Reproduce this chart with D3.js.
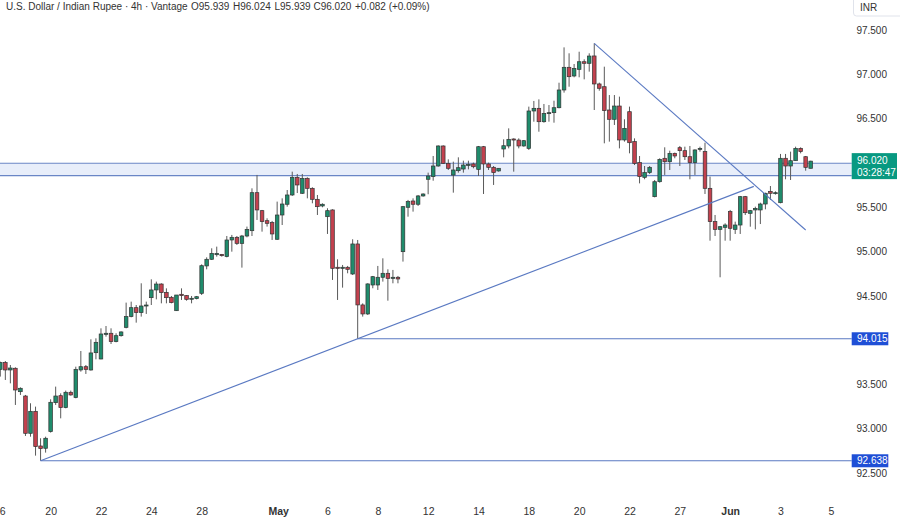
<!DOCTYPE html>
<html>
<head>
<meta charset="utf-8">
<script src="https://cdn.jsdelivr.net/npm/d3@7"></script>
<style>
  body { margin: 0; background: #fff; }
  svg { display: block; font-family: "Liberation Sans", Arial, sans-serif; }
</style>
</head>
<body>
<script>
// 4h candles, oldest first
var opens = [93.670,93.746,93.663,93.682,93.418,93.369,92.948,93.196,92.805,92.779,
  92.967,93.294,93.373,93.238,93.411,93.351,93.663,93.700,93.663,93.858,
  93.787,94.065,94.077,93.983,94.050,94.144,94.265,94.366,94.310,94.385,
  94.479,94.566,94.633,94.539,94.483,94.332,94.517,94.502,94.464,94.468,
  94.528,94.837,94.912,94.964,94.968,94.942,95.130,95.160,95.092,95.175,
  95.235,95.664,95.461,95.348,95.326,95.138,95.412,95.533,95.638,95.837,
  95.657,95.826,95.713,95.589,95.514,95.393,95.469,94.822,94.810,94.822,
  94.746,95.085,94.397,94.295,94.622,94.622,94.709,94.754,94.697,94.709,
  94.998,95.499,95.570,95.533,95.627,95.815,95.845,95.965,96.191,95.995,
  95.863,95.912,95.931,95.972,95.988,95.927,96.183,95.988,95.950,95.909,
  96.157,96.191,96.270,96.258,96.191,96.164,96.586,96.616,96.465,96.559,
  96.567,96.623,96.823,97.079,96.981,97.056,97.142,97.124,97.207,96.891,
  96.860,96.597,96.492,96.642,96.259,96.578,96.240,96.003,95.837,95.890,
  95.619,95.788,96.052,96.014,96.108,96.172,96.138,96.070,96.003,96.153,
  96.127,95.713,95.337,95.250,95.273,95.450,95.250,95.299,95.619,95.431,
  95.469,95.469,95.536,95.679,95.657,95.551,96.052,95.965,96.025,96.164,
  96.070,95.939];
var highs = [93.757,93.764,93.719,93.693,93.467,93.381,93.287,93.249,92.892,92.910,
  93.332,93.475,93.399,93.430,93.430,93.700,93.877,93.719,94.009,94.020,
  94.133,94.159,94.133,94.077,94.099,94.423,94.434,94.396,94.641,94.434,
  94.686,94.660,94.641,94.584,94.498,94.509,94.584,94.509,94.498,94.498,
  94.855,94.934,95.036,95.055,94.972,95.175,95.187,95.175,95.187,95.281,
  95.713,95.864,95.469,95.375,95.345,95.563,95.600,95.694,95.901,95.875,
  95.875,95.837,95.725,95.638,95.544,95.488,95.476,94.912,94.848,94.837,
  95.138,95.130,94.415,94.641,94.724,94.837,94.923,94.799,94.792,94.724,
  95.514,95.582,95.600,95.638,95.657,95.890,96.078,96.198,96.198,96.040,
  96.014,96.063,96.025,96.025,96.003,96.191,96.191,96.003,95.965,95.939,
  96.266,96.390,96.277,96.277,96.258,96.635,96.699,96.717,96.665,96.653,
  96.702,96.905,97.304,97.237,97.116,97.255,97.169,97.237,97.350,96.906,
  97.086,96.766,96.766,96.748,96.492,96.635,96.277,96.078,95.965,95.965,
  95.807,96.052,96.176,96.138,96.116,96.191,96.183,96.191,96.153,96.183,
  96.228,95.845,95.412,95.288,95.318,95.469,95.337,95.627,95.627,95.469,
  95.506,95.551,95.664,95.739,95.679,96.101,96.101,96.127,96.183,96.176,
  96.078,96.024];
var lows = [93.588,93.550,93.512,93.268,93.381,92.918,92.910,92.696,92.638,92.730,
  92.956,93.268,93.117,93.230,93.373,93.343,93.644,93.618,93.655,93.783,
  93.783,94.039,93.956,93.975,94.039,94.133,94.257,94.197,94.265,94.295,
  94.396,94.460,94.415,94.415,94.415,94.329,94.453,94.445,94.415,94.460,
  94.509,94.799,94.904,94.942,94.942,94.934,94.998,95.074,94.818,95.160,
  95.175,95.356,95.224,95.281,95.130,95.130,95.299,95.506,95.627,95.660,
  95.649,95.600,95.544,95.412,95.499,95.198,94.679,94.453,94.592,94.754,
  94.735,94.015,94.265,94.284,94.585,94.566,94.660,94.445,94.641,94.641,
  94.886,95.393,95.450,95.514,95.619,95.646,95.799,95.957,95.988,95.920,
  95.664,95.890,95.890,95.927,95.939,95.852,95.649,95.920,95.751,95.901,
  96.063,96.164,95.901,96.164,96.183,96.146,96.465,96.352,96.454,96.465,
  96.454,96.616,96.793,96.860,96.966,96.966,96.943,97.030,96.597,96.815,
  96.221,96.240,96.428,96.164,96.240,96.108,95.976,95.769,95.815,95.875,
  95.611,95.777,95.864,95.920,96.052,95.965,96.033,95.815,95.864,96.127,
  95.649,95.122,95.175,94.709,95.122,95.122,95.198,95.198,95.412,95.280,
  95.250,95.310,95.476,95.581,95.642,95.544,95.815,95.807,96.022,96.108,
  95.912,95.939];
var closes = [93.746,93.663,93.685,93.437,93.456,92.948,93.196,92.798,92.775,92.892,
  93.298,93.369,93.238,93.411,93.381,93.670,93.700,93.670,93.855,93.975,
  94.069,94.077,93.983,94.050,94.092,94.265,94.366,94.310,94.385,94.396,
  94.566,94.633,94.536,94.479,94.423,94.509,94.502,94.460,94.472,94.490,
  94.840,94.912,94.979,94.979,94.953,95.130,95.160,95.092,95.175,95.250,
  95.664,95.469,95.337,95.318,95.198,95.412,95.536,95.638,95.837,95.751,
  95.826,95.713,95.589,95.506,95.533,95.461,94.810,94.810,94.822,94.799,
  95.085,94.397,94.295,94.634,94.716,94.709,94.754,94.697,94.709,94.690,
  95.506,95.563,95.533,95.627,95.649,95.852,95.965,96.191,95.995,95.939,
  95.920,95.946,95.976,95.984,95.957,96.183,95.988,95.950,95.890,95.939,
  96.194,96.266,96.258,96.191,96.251,96.586,96.616,96.465,96.559,96.567,
  96.623,96.823,97.079,96.973,97.067,97.142,97.124,97.206,96.891,96.842,
  96.590,96.492,96.642,96.259,96.390,96.228,95.995,95.845,95.890,95.950,
  95.788,96.040,96.014,96.108,96.078,96.138,96.070,96.003,96.146,96.164,
  95.713,95.337,95.250,95.280,95.299,95.262,95.299,95.619,95.438,95.461,
  95.487,95.536,95.657,95.657,95.664,96.052,95.965,96.025,96.164,96.127,
  95.950,96.020];

// x axis labels, positioned by candle index
var dateLabels = ["16","20","22","24","28","May","6","8","12","14","18","20","22","27","Jun","3","5"];
var dateIdx = [-0.2,10,20,30,40,55.2,65,75,85,95,105,115,125,135,145,155,165];

// 96.000 and 94.000 sit under the price tags, so they are not shown
var priceTicks = [92.5,93,93.5,94.5,95,95.5,96.5,97,97.5];

// drawings: [idx1, price1, idx2, price2]
var trendLines = [[8, 92.638, 149.7, 95.735], [118, 97.35, 160, 95.243]];
var levelLines = [[71, 94.015], [8, 92.638]];
var zone = [95.856, 95.996];
var lastPrice = 96.020;

var width = 900, height = 523, plotRight = 851.7;

var svg = d3.select("body").append("svg")
  .attr("width", width)
  .attr("height", height);

var x = d3.scaleLinear().domain([0, 161]).range([0.3, 810.7]);
var y = d3.scaleLinear().domain([92.5, 97.5]).range([473, 30]);

// zone
svg.append("rect")
  .attr("x", 0)
  .attr("y", y(zone[1]))
  .attr("width", plotRight)
  .attr("height", y(zone[0]) - y(zone[1]))
  .attr("fill", "#e8eefa")
  .attr("stroke", "none");
zone.forEach(function(v){
  svg.append("line")
    .attr("x1", 0).attr("x2", plotRight)
    .attr("y1", y(v)).attr("y2", y(v))
    .attr("stroke", "#6a86c6").attr("stroke-width", 1.2);
});

// candles
var candles = opens.map(function(o, i){
  return {i: i, o: o, h: highs[i], l: lows[i], c: closes[i]};
});

var g = svg.append("g");
g.selectAll("line.wick")
  .data(candles)
  .enter()
  .append("line")
  .attr("class", "wick")
  .attr("x1", function(d){ return x(d.i); })
  .attr("x2", function(d){ return x(d.i); })
  .attr("y1", function(d){ return y(d.h); })
  .attr("y2", function(d){ return y(d.l); })
  .attr("stroke", "#5a5a5a")
  .attr("stroke-width", 1);

g.selectAll("rect.body")
  .data(candles)
  .enter()
  .append("rect")
  .attr("class", "body")
  .attr("x", function(d){ return x(d.i) - 1.8; })
  .attr("width", 3.6)
  .attr("y", function(d){ return y(Math.max(d.o, d.c)); })
  .attr("height", function(d){ return Math.max(1, Math.abs(y(d.o) - y(d.c))); })
  .attr("fill", function(d){ return d.c >= d.o ? "#1f8c6c" : "#c3414e"; })
  .attr("stroke", "#333")
  .attr("stroke-width", 0.7);

// trend lines
svg.selectAll("line.trend")
  .data(trendLines)
  .enter()
  .append("line")
  .attr("x1", function(d){ return x(d[0]); })
  .attr("y1", function(d){ return y(d[1]); })
  .attr("x2", function(d){ return x(d[2]); })
  .attr("y2", function(d){ return y(d[3]); })
  .attr("stroke", "#5a79c2")
  .attr("stroke-width", 1.1);

svg.selectAll("line.level")
  .data(levelLines)
  .enter()
  .append("line")
  .attr("x1", function(d){ return x(d[0]); })
  .attr("x2", plotRight)
  .attr("y1", function(d){ return y(d[1]); })
  .attr("y2", function(d){ return y(d[1]); })
  .attr("stroke", "#5a79c2")
  .attr("stroke-width", 1.1);

// price axis
svg.append("g")
  .attr("transform", "translate(887,0)")
  .call(d3.axisLeft(y).tickValues(priceTicks).tickFormat(d3.format(".3f")).tickSize(0))
  .call(function(a){ a.select(".domain").remove(); })
  .selectAll("text")
  .attr("x", 0)
  .attr("fill", "#333")
  .style("font-size", "10px")
  .style("font-family", "Liberation Sans, Arial, sans-serif");

// level labels
levelLines.forEach(function(d){
  svg.append("rect")
    .attr("x", plotRight).attr("y", y(d[1]) - 6.5)
    .attr("width", 36.6).attr("height", 13)
    .attr("fill", "#1f4fd6");
  svg.append("text")
    .attr("x", 857).attr("y", y(d[1]) + 3.6)
    .attr("fill", "#fff").attr("font-size", "10px")
    .text(d[1].toFixed(3));
});

svg.append("rect")
  .attr("x", plotRight).attr("y", y(lastPrice) - 8)
  .attr("width", 45.3).attr("height", 26)
  .attr("fill", "#089981");
svg.append("text")
  .attr("x", 857).attr("y", y(lastPrice) + 3)
  .attr("fill", "#fff").attr("font-size", "10px")
  .text(lastPrice.toFixed(3));
svg.append("text")
  .attr("x", 857).attr("y", y(lastPrice) + 15)
  .attr("fill", "#fff").attr("font-size", "10px")
  .text("03:28:47");

// currency tag
svg.append("rect")
  .attr("x", 853.5).attr("y", -3)
  .attr("width", 50).attr("height", 19)
  .attr("rx", 3)
  .attr("fill", "#fff").attr("stroke", "#e0e3eb");
svg.append("text")
  .attr("x", 860).attr("y", 10.5)
  .attr("fill", "#333").attr("font-size", "10px")
  .text("INR");

// date axis
var xa = svg.append("g")
  .attr("transform", "translate(0,512)")
  .call(d3.axisBottom(x).tickValues(dateIdx).tickFormat(function(d, i){ return dateLabels[i]; }).tickSize(0));
xa.select(".domain").remove();
xa.selectAll("text")
  .attr("y", 0)
  .attr("dy", "0.32em")
  .attr("fill", "#333")
  .style("font-size", "10.5px")
  .style("font-family", "Liberation Sans, Arial, sans-serif")
  .style("font-weight", function(d, i){ return (dateLabels[i] === "May" || dateLabels[i] === "Jun") ? "bold" : "normal"; });

// header
var header = [
  ["U.S. Dollar / Indian Rupee \u00b7 4h \u00b7 Vantage", 6],
  ["O95.939", 191],
  ["H96.024", 233],
  ["L95.939", 274.5],
  ["C96.020", 313.5],
  ["+0.082 (+0.09%)", 355]
];
svg.selectAll("text.hdr")
  .data(header)
  .enter()
  .append("text")
  .attr("class", "hdr")
  .attr("x", function(d){ return d[1]; })
  .attr("y", 10)
  .attr("fill", "#333")
  .attr("font-size", "10px")
  .text(function(d){ return d[0]; });
</script>
</body>
</html>
